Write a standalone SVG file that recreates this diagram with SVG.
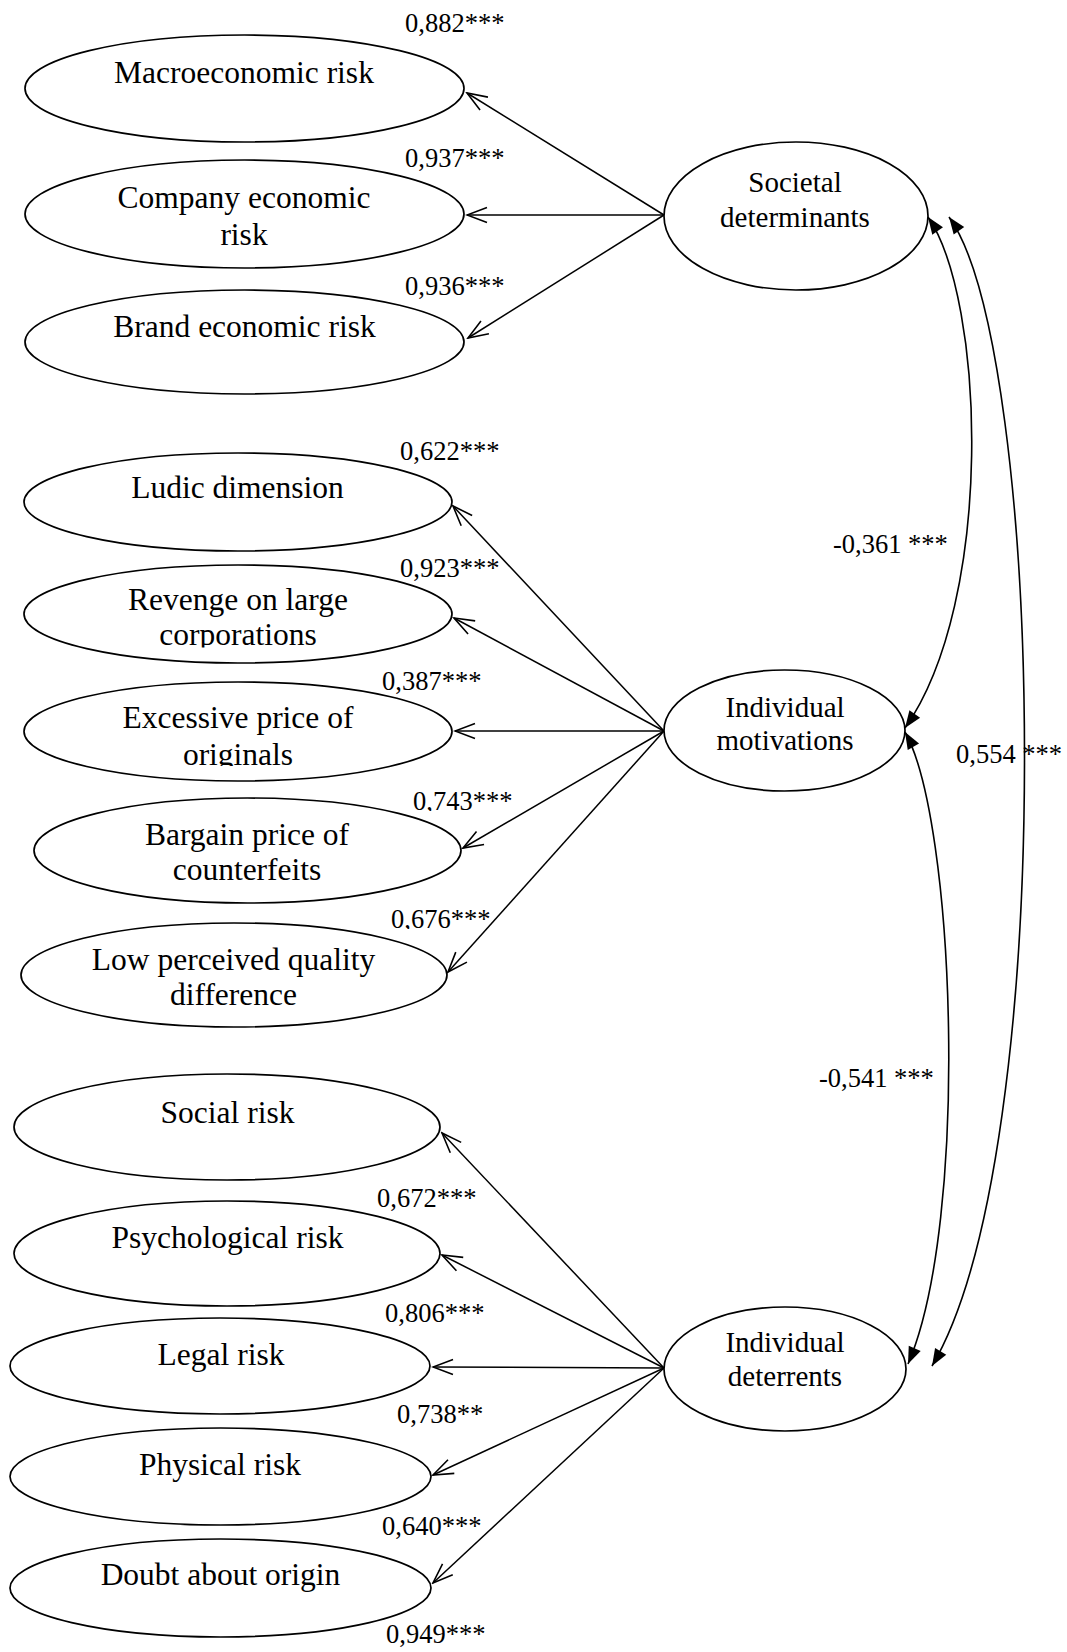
<svg xmlns="http://www.w3.org/2000/svg" width="1067" height="1652" viewBox="0 0 1067 1652">
<style>
  .node { fill: #fff; stroke: #000; stroke-width: 1.7; }
  .t { font-family: "Liberation Serif", "Times New Roman", serif; fill: #000; text-anchor: middle; }
  .item { font-size: 31.5px; }
  .lat { font-size: 29px; }
  .lbl { font-family: "Liberation Serif", "Times New Roman", serif; font-size: 26.5px; fill: #000; }
  .conn { stroke: #000; stroke-width: 1.5; fill: none; }
  .corr { stroke: #000; stroke-width: 1.6; fill: none; }
</style>
<defs>
  <marker id="open" markerUnits="userSpaceOnUse" viewBox="-22 -10 24 20" refX="0" refY="0" markerWidth="24" markerHeight="20" orient="auto">
    <path d="M -20 -7.5 L 0 0 L -20 7.5" fill="none" stroke="#000" stroke-width="1.6"/>
  </marker>
  <marker id="fill" markerUnits="userSpaceOnUse" viewBox="-18 -8 19 16" refX="0" refY="0" markerWidth="19" markerHeight="16" orient="auto-start-reverse">
    <path d="M 0 0 L -17 -6.5 L -17 6.5 Z" fill="#000"/>
  </marker>
  <clipPath id="cRev"><rect x="0" y="0" width="520" height="647.5"/></clipPath>
  <clipPath id="cExc"><rect x="0" y="0" width="520" height="766"/></clipPath>
  <clipPath id="c743"><rect x="0" y="0" width="560" height="811"/></clipPath>
  <clipPath id="c676"><rect x="0" y="0" width="560" height="929"/></clipPath>
</defs>

<g id="connectors">
  <line class="conn" x1="664" y1="215" x2="467" y2="93" marker-end="url(#open)"/>
  <line class="conn" x1="664" y1="215" x2="467" y2="215" marker-end="url(#open)"/>
  <line class="conn" x1="664" y1="215" x2="468" y2="338" marker-end="url(#open)"/>

  <line class="conn" x1="664" y1="731" x2="453" y2="506" marker-end="url(#open)"/>
  <line class="conn" x1="664" y1="731" x2="454" y2="618" marker-end="url(#open)"/>
  <line class="conn" x1="664" y1="731" x2="455" y2="731" marker-end="url(#open)"/>
  <line class="conn" x1="664" y1="731" x2="463" y2="848" marker-end="url(#open)"/>
  <line class="conn" x1="664" y1="731" x2="448" y2="972" marker-end="url(#open)"/>

  <line class="conn" x1="664" y1="1368" x2="442" y2="1133" marker-end="url(#open)"/>
  <line class="conn" x1="664" y1="1368" x2="442" y2="1255" marker-end="url(#open)"/>
  <line class="conn" x1="664" y1="1368" x2="433" y2="1367" marker-end="url(#open)"/>
  <line class="conn" x1="664" y1="1368" x2="433" y2="1475" marker-end="url(#open)"/>
  <line class="conn" x1="664" y1="1368" x2="433" y2="1583" marker-end="url(#open)"/>

  <path class="corr" d="M 928 217 C 985 300, 995 600, 905 728" marker-start="url(#fill)" marker-end="url(#fill)"/>
  <path class="corr" d="M 905 732 C 955 820, 970 1220, 908 1364" marker-start="url(#fill)" marker-end="url(#fill)"/>
  <path class="corr" d="M 949 217 C 1045 350, 1060 1150, 932 1366" marker-start="url(#fill)" marker-end="url(#fill)"/>
</g>

<g id="societal">
  <ellipse class="node" cx="796" cy="216" rx="132" ry="74"/>
  <text class="t lat" x="795" y="192">Societal</text>
  <text class="t lat" x="795" y="227">determinants</text>
</g>
<g id="motivations">
  <ellipse class="node" cx="784.5" cy="730.5" rx="120.5" ry="60.5"/>
  <text class="t lat" x="785" y="717">Individual</text>
  <text class="t lat" x="785" y="750">motivations</text>
</g>
<g id="deterrents">
  <ellipse class="node" cx="785" cy="1369" rx="121" ry="62"/>
  <text class="t lat" x="785" y="1352">Individual</text>
  <text class="t lat" x="785" y="1386">deterrents</text>
</g>

<g id="macro">
  <ellipse class="node" cx="244.5" cy="88.5" rx="219.5" ry="53.5"/>
  <text class="t item" x="244" y="83">Macroeconomic risk</text>
</g>
<g id="company">
  <ellipse class="node" cx="244.5" cy="214" rx="219.5" ry="54"/>
  <text class="t item" x="244" y="208">Company economic</text>
  <text class="t item" x="244" y="245">risk</text>
</g>
<g id="brand">
  <ellipse class="node" cx="244.5" cy="342" rx="219.5" ry="52"/>
  <text class="t item" x="244.5" y="337">Brand economic risk</text>
</g>
<g id="ludic">
  <ellipse class="node" cx="238" cy="502" rx="214" ry="49"/>
  <text class="t item" x="237.5" y="498">Ludic dimension</text>
</g>
<g id="revenge">
  <ellipse class="node" cx="238" cy="614" rx="214" ry="49"/>
  <text class="t item" x="238" y="610">Revenge on large</text>
  <text class="t item" x="238" y="645" clip-path="url(#cRev)">corporations</text>
</g>
<g id="excessive">
  <ellipse class="node" cx="238" cy="731.5" rx="214" ry="49.5"/>
  <text class="t item" x="238" y="728">Excessive price of</text>
  <text class="t item" x="238" y="765" clip-path="url(#cExc)">originals</text>
</g>
<g id="bargain">
  <ellipse class="node" cx="247.5" cy="850.5" rx="213.5" ry="52.5"/>
  <text class="t item" x="247" y="845">Bargain price of</text>
  <text class="t item" x="247" y="880">counterfeits</text>
</g>
<g id="lowquality">
  <ellipse class="node" cx="234" cy="975" rx="213" ry="52"/>
  <text class="t item" x="233.5" y="970">Low perceived quality</text>
  <text class="t item" x="233.5" y="1005">difference</text>
</g>
<g id="social">
  <ellipse class="node" cx="227" cy="1127" rx="213" ry="53"/>
  <text class="t item" x="227.5" y="1123">Social risk</text>
</g>
<g id="psychological">
  <ellipse class="node" cx="227" cy="1253.5" rx="213" ry="52.5"/>
  <text class="t item" x="227.5" y="1248">Psychological risk</text>
</g>
<g id="legal">
  <ellipse class="node" cx="220" cy="1366" rx="210" ry="48"/>
  <text class="t item" x="221" y="1365">Legal risk</text>
</g>
<g id="physical">
  <ellipse class="node" cx="220.5" cy="1476.5" rx="210.5" ry="48.5"/>
  <text class="t item" x="220" y="1475">Physical risk</text>
</g>
<g id="doubt">
  <ellipse class="node" cx="220.5" cy="1588" rx="210.5" ry="49"/>
  <text class="t item" x="220.5" y="1585">Doubt about origin</text>
</g>

<g id="labels">
  <text class="lbl" x="405" y="32">0,882***</text>
  <text class="lbl" x="405" y="167">0,937***</text>
  <text class="lbl" x="405" y="295">0,936***</text>
  <text class="lbl" x="400" y="460">0,622***</text>
  <text class="lbl" x="400" y="577">0,923***</text>
  <text class="lbl" x="382" y="690">0,387***</text>
  <text class="lbl" x="413" y="810" clip-path="url(#c743)">0,743***</text>
  <text class="lbl" x="391" y="928" clip-path="url(#c676)">0,676***</text>
  <text class="lbl" x="377" y="1207">0,672***</text>
  <text class="lbl" x="385" y="1322">0,806***</text>
  <text class="lbl" x="397" y="1423">0,738**</text>
  <text class="lbl" x="382" y="1535">0,640***</text>
  <text class="lbl" x="386" y="1643">0,949***</text>
  <text class="lbl" x="833" y="553">-0,361 ***</text>
  <text class="lbl" x="819" y="1087">-0,541 ***</text>
  <text class="lbl" x="956" y="763">0,554 ***</text>
</g>
</svg>
